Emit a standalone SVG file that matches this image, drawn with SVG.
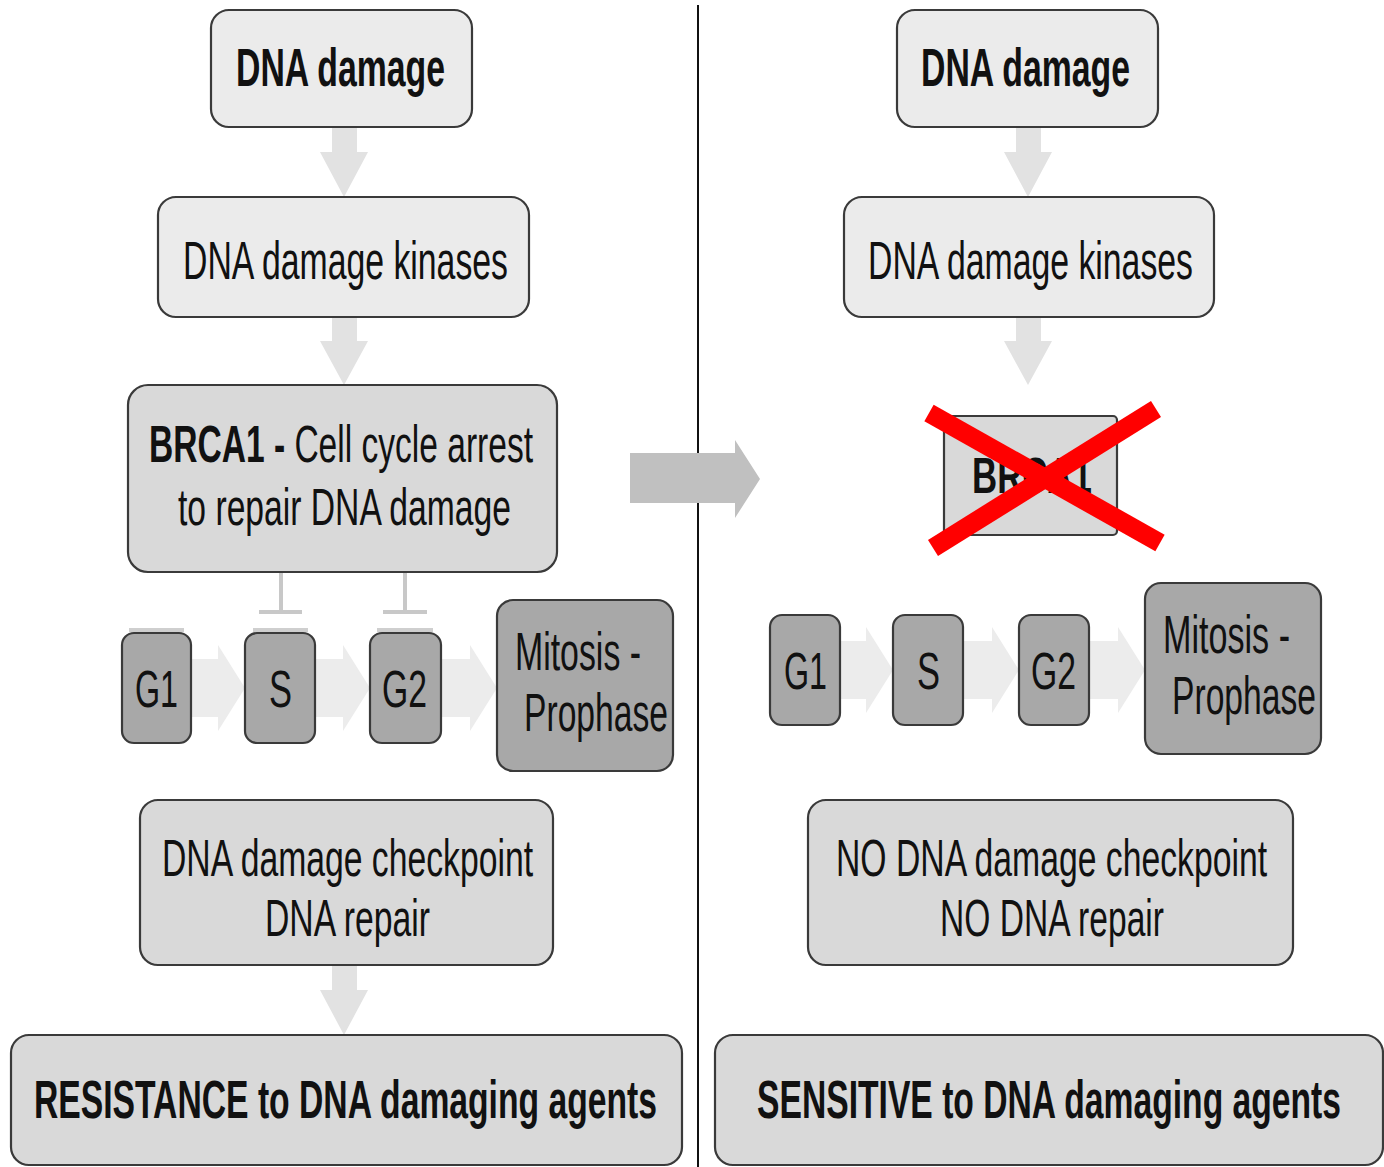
<svg xmlns="http://www.w3.org/2000/svg" width="1384" height="1167" viewBox="0 0 1384 1167">
<style>
.box{stroke:#3a3a3a;stroke-width:2.2}
.l1{fill:#ebebeb}
.l2{fill:#d9d9d9}
.l3{fill:#a8a8a8}
.t{font-family:"Liberation Sans",Arial,sans-serif;fill:#111}
.b{font-weight:bold}
.dn{fill:#e2e2e2}
.ch{fill:#ececec}
.inh{stroke:#c8c8c8;stroke-width:4;fill:none}
.bar{fill:#cfcfcf}
</style>
<rect width="1384" height="1167" fill="#fff"/>
<g id="connectors">
  <line x1="698" y1="5" x2="698" y2="1167" stroke="#111" stroke-width="2"/>
  <polygon points="630,453 735,453 735,440 760,479 735,518 735,503 630,503" fill="#c0c0c0"/>
  <polygon class="dn" points="332,127 357,127 357,152 368,152 344,197 320,152 332,152"/>
  <polygon class="dn" points="332,317 357,317 357,341 368,341 344,385 320,341 332,341"/>
  <polygon class="dn" points="332,965 357,965 357,990 368,990 344,1035 320,990 332,990"/>
  <polygon class="dn" points="1016,127 1041,127 1041,152 1052,152 1028,197 1004,152 1016,152"/>
  <polygon class="dn" points="1016,317 1041,317 1041,341 1052,341 1028,385 1004,341 1016,341"/>
  <path class="inh" d="M281,572 V612 M259,612 H302 M405,572 V612 M383,612 H427"/>
  <rect class="bar" x="129" y="628" width="55" height="4"/>
  <rect class="bar" x="253" y="628" width="55" height="4"/>
  <rect class="bar" x="377" y="628" width="56" height="4"/>
  <polygon class="ch" points="191,659 218,659 218,645 245,688 218,731 218,717 191,717"/>
  <polygon class="ch" points="315,659 343,659 343,645 370,688 343,731 343,717 315,717"/>
  <polygon class="ch" points="441,659 470,659 470,645 497,688 470,731 470,717 441,717"/>
  <polygon class="ch" points="840,641 866,641 866,627 893,670 866,713 866,699 840,699"/>
  <polygon class="ch" points="963,641 992,641 992,627 1019,670 992,713 992,699 963,699"/>
  <polygon class="ch" points="1089,641 1118,641 1118,627 1145,670 1118,713 1118,699 1089,699"/>
</g>
<g id="l-dna-damage">
  <rect class="box l1" x="211" y="10" width="261" height="117" rx="18"/>
  <text class="t b" x="236" y="86" font-size="54" textLength="209" lengthAdjust="spacingAndGlyphs">DNA damage</text>
</g>
<g id="l-kinases">
  <rect class="box l1" x="158" y="197" width="371" height="120" rx="18"/>
  <text class="t" x="183" y="279" font-size="54" textLength="325" lengthAdjust="spacingAndGlyphs">DNA damage kinases</text>
</g>
<g id="l-brca1">
  <rect class="box l2" x="128" y="385" width="429" height="187" rx="20"/>
  <text class="t" x="149" y="462" font-size="52" textLength="384" lengthAdjust="spacingAndGlyphs"><tspan class="b">BRCA1 -</tspan> Cell cycle arrest</text>
  <text class="t" x="178" y="525" font-size="52" textLength="333" lengthAdjust="spacingAndGlyphs">to repair DNA damage</text>
</g>
<g id="l-g1">
  <rect class="box l3" x="122" y="633" width="69" height="110" rx="12"/>
  <text class="t" x="135" y="707" font-size="52" textLength="43" lengthAdjust="spacingAndGlyphs">G1</text>
</g>
<g id="l-s">
  <rect class="box l3" x="245" y="633" width="70" height="110" rx="12"/>
  <text class="t" x="269" y="707" font-size="52" textLength="23" lengthAdjust="spacingAndGlyphs">S</text>
</g>
<g id="l-g2">
  <rect class="box l3" x="370" y="633" width="71" height="110" rx="12"/>
  <text class="t" x="382" y="707" font-size="52" textLength="45" lengthAdjust="spacingAndGlyphs">G2</text>
</g>
<g id="l-mitosis">
  <rect class="box l3" x="497" y="600" width="176" height="171" rx="16"/>
  <text class="t" x="515" y="670" font-size="54" textLength="126" lengthAdjust="spacingAndGlyphs">Mitosis -</text>
  <text class="t" x="524" y="731" font-size="54" textLength="144" lengthAdjust="spacingAndGlyphs">Prophase</text>
</g>
<g id="l-checkpoint">
  <rect class="box l2" x="140" y="800" width="413" height="165" rx="18"/>
  <text class="t" x="162" y="876" font-size="52" textLength="371" lengthAdjust="spacingAndGlyphs">DNA damage checkpoint</text>
  <text class="t" x="265" y="936" font-size="52" textLength="165" lengthAdjust="spacingAndGlyphs">DNA repair</text>
</g>
<g id="l-resistance">
  <rect class="box l2" x="11" y="1035" width="671" height="130" rx="18"/>
  <text class="t b" x="34" y="1118" font-size="53" textLength="623" lengthAdjust="spacingAndGlyphs">RESISTANCE to DNA damaging agents</text>
</g>
<g id="r-dna-damage">
  <rect class="box l1" x="897" y="10" width="261" height="117" rx="18"/>
  <text class="t b" x="921" y="86" font-size="54" textLength="209" lengthAdjust="spacingAndGlyphs">DNA damage</text>
</g>
<g id="r-kinases">
  <rect class="box l1" x="844" y="197" width="370" height="120" rx="18"/>
  <text class="t" x="868" y="279" font-size="54" textLength="325" lengthAdjust="spacingAndGlyphs">DNA damage kinases</text>
</g>
<g id="r-brca1">
  <rect class="box l2" x="944" y="416" width="173" height="119" rx="4"/>
  <text class="t b" x="972" y="493" font-size="50" textLength="120" lengthAdjust="spacingAndGlyphs">BRCA1</text>
  <g stroke="#ff0000" stroke-width="19" stroke-linecap="butt">
    <line x1="929" y1="413" x2="1160" y2="543"/>
    <line x1="1156" y1="409" x2="933" y2="548"/>
  </g>
</g>
<g id="r-g1">
  <rect class="box l3" x="770" y="615" width="70" height="110" rx="12"/>
  <text class="t" x="784" y="689" font-size="52" textLength="43" lengthAdjust="spacingAndGlyphs">G1</text>
</g>
<g id="r-s">
  <rect class="box l3" x="893" y="615" width="70" height="110" rx="12"/>
  <text class="t" x="917" y="689" font-size="52" textLength="23" lengthAdjust="spacingAndGlyphs">S</text>
</g>
<g id="r-g2">
  <rect class="box l3" x="1019" y="615" width="70" height="110" rx="12"/>
  <text class="t" x="1031" y="689" font-size="52" textLength="45" lengthAdjust="spacingAndGlyphs">G2</text>
</g>
<g id="r-mitosis">
  <rect class="box l3" x="1145" y="583" width="176" height="171" rx="16"/>
  <text class="t" x="1163" y="653" font-size="54" textLength="127" lengthAdjust="spacingAndGlyphs">Mitosis -</text>
  <text class="t" x="1172" y="714" font-size="54" textLength="144" lengthAdjust="spacingAndGlyphs">Prophase</text>
</g>
<g id="r-checkpoint">
  <rect class="box l2" x="808" y="800" width="485" height="165" rx="18"/>
  <text class="t" x="836" y="876" font-size="52" textLength="431" lengthAdjust="spacingAndGlyphs">NO DNA damage checkpoint</text>
  <text class="t" x="940" y="936" font-size="52" textLength="224" lengthAdjust="spacingAndGlyphs">NO DNA repair</text>
</g>
<g id="r-sensitive">
  <rect class="box l2" x="715" y="1035" width="668" height="130" rx="18"/>
  <text class="t b" x="757" y="1118" font-size="53" textLength="584" lengthAdjust="spacingAndGlyphs">SENSITIVE to DNA damaging agents</text>
</g>
</svg>
